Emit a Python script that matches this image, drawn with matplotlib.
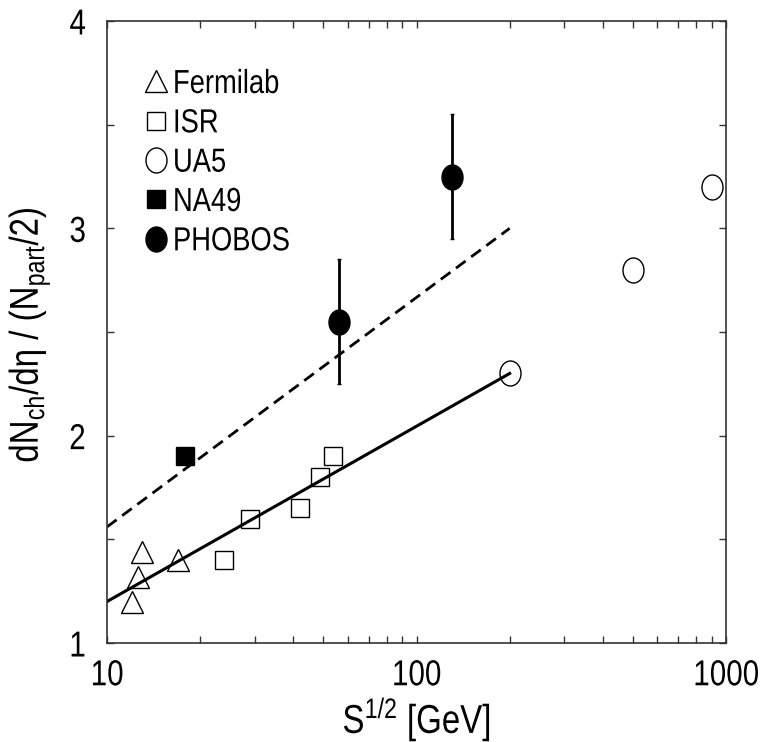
import matplotlib
matplotlib.use("Agg")
import matplotlib.pyplot as plt
from matplotlib.path import Path
from matplotlib.transforms import Affine2D
from matplotlib.patheffects import AbstractPathEffect
from matplotlib.ticker import FixedLocator, NullFormatter, FixedFormatter

plt.rcParams['font.family'] = ['Liberation Sans', 'DejaVu Sans']
plt.rcParams['mathtext.default'] = 'regular'
plt.rcParams['lines.scale_dashes'] = False

# ---- data ----
fermilab_x = [12.0, 12.6, 13.0, 16.9]
fermilab_y = [1.20, 1.32, 1.44, 1.40]
isr_x = [23.9, 29.0, 42.1, 48.7, 53.7]
isr_y = [1.40, 1.60, 1.65, 1.80, 1.90]
ua5_x = [200, 500, 900]
ua5_y = [2.30, 2.80, 3.20]
na49_x = [17.8]
na49_y = [1.90]
phobos_x = [56, 130]
phobos_y = [2.55, 3.25]
phobos_err = [0.30, 0.30]
fit_pp_x = [10, 200]
fit_pp_y = [1.20, 2.30]
fit_aa_x = [10, 200]
fit_aa_y = [1.56, 3.00]

x_major = [10, 100, 1000]
x_labels = ['10', '100', '1000']
y_major = [1, 2, 3, 4]
y_minor = [1.5, 2.5, 3.5]


class Narrow(AbstractPathEffect):
    """Draw text horizontally condensed (like a narrow sans font)."""
    def __init__(self, factor=0.82, anchor='center'):
        super().__init__()
        self.factor = factor
        self.anchor = anchor

    def draw_path(self, renderer, gc, tpath, affine, rgbFace=None):
        ext = tpath.get_extents()
        if self.anchor == 'left':
            cx = min(ext.x0, 0)
        elif self.anchor == 'right':
            cx = ext.x1
        else:
            cx = 0.5 * (ext.x0 + ext.x1)
        t = Affine2D().translate(-cx, 0).scale(self.factor, 1.0).translate(cx, 0)
        renderer.draw_path(gc, tpath, t + affine, rgbFace)


# ellipse marker (slightly taller than wide)
ellipse = Path.unit_circle().transformed(Affine2D().scale(0.84, 1.0))

fig = plt.figure(figsize=(7.62, 7.42), dpi=100)
ax = fig.add_axes([107/762, 1-643/742, (726-107)/762, (643-21)/742])

ax.plot(fit_pp_x, fit_pp_y, '-', color='black', lw=2.2, zorder=2)
ax.plot(fit_aa_x, fit_aa_y, color='black', lw=2.0, dashes=(8.6, 5.0), zorder=2)

ax.plot(fermilab_x, fermilab_y, ls='none', marker='^', ms=16, mfc='none',
        mec='black', mew=1.0, label='Fermilab', zorder=3)
ax.plot(isr_x, isr_y, ls='none', marker='s', ms=12.5, mfc='none',
        mec='black', mew=1.0, label='ISR', zorder=3)
ax.plot(ua5_x, ua5_y, ls='none', marker=ellipse, ms=18, mfc='none',
        mec='black', mew=1.0, label='UA5', zorder=3)
ax.plot(na49_x, na49_y, ls='none', marker='s', ms=12.5, mfc='black',
        mec='black', mew=1.0, label='NA49', zorder=3)
ax.errorbar(phobos_x, phobos_y, yerr=phobos_err, fmt='none', ecolor='black',
            elinewidth=2.0, capsize=1.5, capthick=1.0, zorder=3)
ax.plot(phobos_x, phobos_y, ls='none', marker=ellipse, ms=18, mfc='black',
        mec='black', mew=1.0, label='PHOBOS', zorder=4)

ax.set_xscale('log')
ax.set_xlim(10, 1000)
ax.set_ylim(1, 4)

ax.xaxis.set_major_locator(FixedLocator(x_major))
ax.xaxis.set_major_formatter(FixedFormatter(x_labels))
ax.xaxis.set_minor_formatter(NullFormatter())
ax.yaxis.set_major_locator(FixedLocator(y_major))
ax.yaxis.set_minor_locator(FixedLocator(y_minor))

ax.tick_params(which='both', direction='in', top=True, right=True,
               length=5, width=1.0, color='#333333')
ax.tick_params(axis='x', which='major', labelsize=26, pad=11)
ax.tick_params(axis='y', which='major', labelsize=26, pad=15)

for s in ax.spines.values():
    s.set_linewidth(1.2)
    s.set_color('#333333')

xl = ax.set_xlabel('S$^{1/2}$ [GeV]', fontsize=29)
ax.xaxis.set_label_coords(0.5, -0.083)
yl = ax.set_ylabel('dN$_{ch}$/dη / (N$_{part}$/2)', fontsize=29)
ax.yaxis.set_label_coords(-0.088, 0.495)
xl.set_path_effects([Narrow(anchor='center')])
yl.set_path_effects([Narrow(anchor='center')])

leg = ax.legend(loc='upper left', bbox_to_anchor=((143-107)/619, (643-69)/622),
                frameon=False, fontsize=24, handlelength=0.8, handletextpad=0.1,
                labelspacing=0.25, borderpad=0, borderaxespad=0, numpoints=1)
for t in leg.get_texts():
    t.set_path_effects([Narrow(anchor='left')])

fig.canvas.draw()
for tk in ax.xaxis.get_major_ticks():
    tk.label1.set_path_effects([Narrow(anchor='center')])
for tk in ax.yaxis.get_major_ticks():
    tk.label1.set_path_effects([Narrow(anchor='right')])

fig.savefig('out.png', dpi=100)
